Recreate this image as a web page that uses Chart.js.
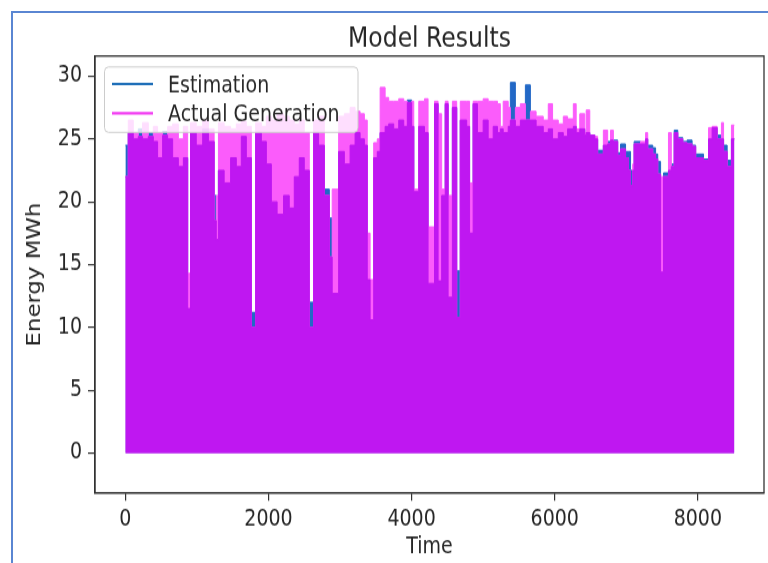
<!DOCTYPE html>
<html>
<head>
<meta charset="utf-8">
<script src="https://cdn.jsdelivr.net/npm/chart.js@4.4.1/dist/chart.umd.min.js"></script>
<style>
  html, body { margin: 0; padding: 0; background: #fff; overflow: hidden; width: 768px; height: 563px; }
  #wrap { position: absolute; left: 0; top: 0; width: 768px; height: 469px; transform: scaleY(1.2); transform-origin: 0 0; }
  #frame { position: absolute; left: 11px; top: 11px; width: 800px; height: 600px;
           border-left: 2px solid #5a86d2; border-top: 2px solid #5a86d2; }
</style>
</head>
<body>
<div id="wrap"><canvas id="c" width="768" height="469"></canvas></div>
<div id="frame"></div>
<script>
// Daily peak energy (MWh), held from each start hour until the next one.
const hours = [
  0, 40, 110, 180, 240, 320, 390, 450, 520, 590, 660, 740, 810, 870, 910, 990,
  1080, 1160, 1240, 1270, 1300, 1380, 1470, 1550, 1620, 1690, 1760, 1820, 1900, 1970,
  2040, 2120, 2210, 2290, 2360, 2430, 2500, 2570, 2630, 2700, 2780, 2850, 2890, 2980,
  3060, 3140, 3210, 3280, 3340, 3380, 3420, 3470, 3520, 3560, 3630, 3680, 3750, 3820,
  3890, 3940, 4000, 4030, 4100, 4180, 4230, 4320, 4370, 4420, 4470, 4510, 4570, 4630,
  4680, 4770, 4810, 4860, 4920, 5000, 5070, 5140, 5200, 5240, 5280, 5350, 5380, 5450,
  5520, 5590, 5660, 5740, 5840, 5910, 5970, 6050, 6120, 6180, 6260, 6300, 6350, 6420,
  6440, 6490, 6560, 6600, 6680, 6740, 6780, 6820, 6880, 6920, 6990, 7030, 7060, 7090,
  7110, 7200, 7270, 7300, 7370, 7410, 7440, 7480, 7520, 7590, 7630, 7670, 7720, 7790,
  7850, 7920, 7970, 8080, 8150, 8200, 8270, 8330, 8360, 8410, 8470
];
const estimation = [
  24.5, 25.5, 25.0, 25.8, 25.0, 25.5, 24.8, 23.5, 25.6, 25.0, 23.5, 22.8, 23.5, 11.5, 25.5, 24.5,
  25.8, 24.8, 20.5, 17.0, 22.5, 21.5, 23.5, 22.8, 25.2, 23.5, 11.2, 25.5, 24.8, 23.0,
  20.0, 19.0, 20.5, 19.5, 22.0, 23.5, 22.5, 12.0, 25.5, 24.5, 21.0, 18.7, 12.7, 24.0,
  23.0, 24.5, 25.5, 25.0, 24.5, 13.8, 10.6, 23.5, 24.0, 25.5, 26.0, 26.2, 25.8, 26.5,
  26.0, 28.1, 26.0, 20.8, 26.0, 25.5, 13.5, 27.8, 13.7, 20.5, 27.8, 12.4, 27.5, 14.5,
  26.5, 26.0, 17.5, 27.8, 25.5, 26.5, 25.0, 26.0, 25.5, 25.8, 25.5, 26.0, 29.5, 26.0,
  26.5, 29.3, 26.5, 26.0, 25.5, 25.8, 25.0, 25.5, 25.2, 25.8, 26.0, 25.5, 25.8, 25.3,
  25.5, 25.3, 25.0, 24.1, 24.5, 24.8, 24.9, 24.9, 23.9, 24.6, 24.0, 24.0, 22.5, 22.5,
  24.8, 24.6, 25.0, 24.5, 24.3, 23.8, 23.2, 14.4, 22.3, 22.5, 23.0, 25.7, 25.1, 24.8,
  24.9, 24.5, 23.8, 23.4, 25.0, 25.9, 25.3, 25.0, 24.5, 23.3, 25.0
];
const actualGeneration = [
  22.0, 26.5, 25.5, 25.2, 26.3, 25.2, 26.0, 25.5, 25.3, 26.0, 26.2, 25.0, 26.0, 14.3, 26.3, 26.0,
  26.5, 25.8, 18.5, 20.5, 26.3, 26.0, 25.8, 26.2, 26.4, 26.0, 10.0, 26.3, 26.0, 26.8,
  26.5, 27.0, 26.8, 26.5, 26.2, 26.5, 25.5, 10.0, 26.5, 26.8, 20.5, 15.6, 21.0, 26.8,
  27.0, 27.5, 27.2, 27.0, 26.5, 17.5, 13.8, 24.7, 25.0, 29.1, 28.3, 28.0, 28.0, 28.2,
  28.0, 27.9, 28.0, 21.0, 28.0, 28.2, 18.0, 28.0, 27.0, 21.0, 28.0, 20.5, 28.0, 10.8,
  28.0, 28.0, 21.5, 28.0, 28.0, 28.2, 28.0, 28.0, 27.8, 26.0, 28.0, 27.5, 26.5, 27.5,
  27.8, 26.5, 27.2, 26.8, 26.5, 27.8, 26.5, 26.2, 26.8, 26.6, 27.8, 25.8, 27.0, 25.5,
  27.3, 25.3, 25.2, 23.8, 25.7, 24.6, 25.7, 24.8, 23.7, 24.2, 23.5, 22.5, 21.3, 23.0,
  24.6, 24.8, 25.5, 24.2, 23.8, 23.4, 22.2, 22.0, 22.0, 25.5, 22.8, 25.5, 25.0, 24.7,
  24.6, 24.4, 23.5, 23.3, 25.9, 26.0, 25.0, 26.3, 24.0, 22.8, 26.1
];
const lastHour = 8510;

const xTicks = [0, 2000, 4000, 6000, 8000];
const yTicks = [0, 5, 10, 15, 20, 25, 30];

const seriesNames = ['Estimation', 'Actual Generation'];
const lineColors = ['#1f6fb8', '#f23cf2'];
const FILL_EST = '#2368c6';
const FILL_ACT = '#fb5cfb';
const FILL_BOTH = '#bf17f1';
const FONT = 'DejaVu Sans';
const TEXT = '#262626';

// Step series: each peak holds until the next start hour, closed at the last hour.
function toSteps(values) {
  const pts = hours.map((h, i) => ({ x: h, y: values[i] }));
  pts.push({ x: lastHour, y: values[values.length - 1] });
  return pts;
}
const common = estimation.map((v, i) => Math.min(v, actualGeneration[i]));

function area(label, values, color, order) {
  return {
    label, data: toSteps(values), stepped: 'before', fill: 'origin',
    backgroundColor: color, borderColor: color, borderWidth: 1,
    pointRadius: 0, order
  };
}

const decorations = {
  id: 'decorations',
  afterDatasetsDraw(chart) {
    const { ctx, chartArea: a } = chart;
    ctx.save();
    ctx.strokeStyle = '#333';
    ctx.lineWidth = 1.3;
    ctx.strokeRect(a.left, a.top, a.right - a.left, a.bottom - a.top);
    ctx.restore();
  },
  afterDraw(chart) {
    const { ctx, chartArea: a } = chart;
    ctx.save();
    ctx.fillStyle = TEXT;
    ctx.textAlign = 'center';
    ctx.textBaseline = 'alphabetic';
    ctx.font = `23.5px "${FONT}"`;
    ctx.fillText('Model Results', (a.left + a.right) / 2, 38.5);

    ctx.font = `19px "${FONT}"`;
    ctx.fillText('Time', (a.left + a.right) / 2, 460.5);

    ctx.save();
    ctx.translate(40, (a.top + a.bottom) / 2);
    ctx.rotate(-Math.PI / 2);
    ctx.fillText('Energy MWh', 0, 0);
    ctx.restore();

    // legend box
    const bx = 104.5, by = 55.8, bw = 253.5, bh = 54.5, r = 4;
    ctx.beginPath();
    ctx.moveTo(bx + r, by);
    ctx.lineTo(bx + bw - r, by);
    ctx.quadraticCurveTo(bx + bw, by, bx + bw, by + r);
    ctx.lineTo(bx + bw, by + bh - r);
    ctx.quadraticCurveTo(bx + bw, by + bh, bx + bw - r, by + bh);
    ctx.lineTo(bx + r, by + bh);
    ctx.quadraticCurveTo(bx, by + bh, bx, by + bh - r);
    ctx.lineTo(bx, by + r);
    ctx.quadraticCurveTo(bx, by, bx + r, by);
    ctx.closePath();
    ctx.fillStyle = 'rgba(255,255,255,0.8)';
    ctx.fill();
    ctx.strokeStyle = '#cccccc';
    ctx.lineWidth = 1;
    ctx.stroke();

    const rows = [70, 94.3];
    seriesNames.forEach((name, i) => {
      ctx.beginPath();
      ctx.moveTo(112, rows[i]);
      ctx.lineTo(153, rows[i]);
      ctx.strokeStyle = lineColors[i];
      ctx.lineWidth = 2.2;
      ctx.stroke();
      ctx.fillStyle = TEXT;
      ctx.textAlign = 'left';
      ctx.font = `19px "${FONT}"`;
      ctx.fillText(name, 168, rows[i] + 6.8);
    });
    ctx.restore();
  }
};

Chart.defaults.font.family = FONT;

new Chart(document.getElementById('c'), {
  type: 'line',
  data: {
    datasets: [
      area(seriesNames[0], estimation, FILL_EST, 3),
      area(seriesNames[1], actualGeneration, FILL_ACT, 2),
      area('common', common, FILL_BOTH, 1)
    ]
  },
  options: {
    responsive: false,
    animation: false,
    devicePixelRatio: 1,
    layout: { padding: { left: 0, right: 4, top: 46.7, bottom: 0 } },
    plugins: { legend: { display: false }, title: { display: false }, tooltip: { enabled: false } },
    scales: {
      x: {
        type: 'linear', min: -425, max: 8925,
        afterFit(s) { s.height = 58.2; },
        afterBuildTicks(s) { s.ticks = xTicks.map(v => ({ value: v })); },
        grid: { drawOnChartArea: false, drawTicks: true, tickLength: 6.5, color: '#333', lineWidth: 1.2 },
        border: { display: true, color: '#333', width: 1.3 },
        ticks: { font: { size: 19 }, color: TEXT, padding: 4, maxRotation: 0, autoSkip: false,
                 callback: v => String(v) }
      },
      y: {
        type: 'linear', min: -3.18, max: 31.6,
        afterFit(s) { s.width = 95; },
        afterBuildTicks(s) { s.ticks = yTicks.map(v => ({ value: v })); },
        grid: { drawOnChartArea: false, drawTicks: true, tickLength: 7, color: '#333', lineWidth: 1.2 },
        border: { display: true, color: '#333', width: 1.3 },
        ticks: { font: { size: 19 }, color: TEXT, padding: 6, autoSkip: false,
                 callback: v => String(v) }
      }
    }
  },
  plugins: [decorations]
});
</script>
</body>
</html>
